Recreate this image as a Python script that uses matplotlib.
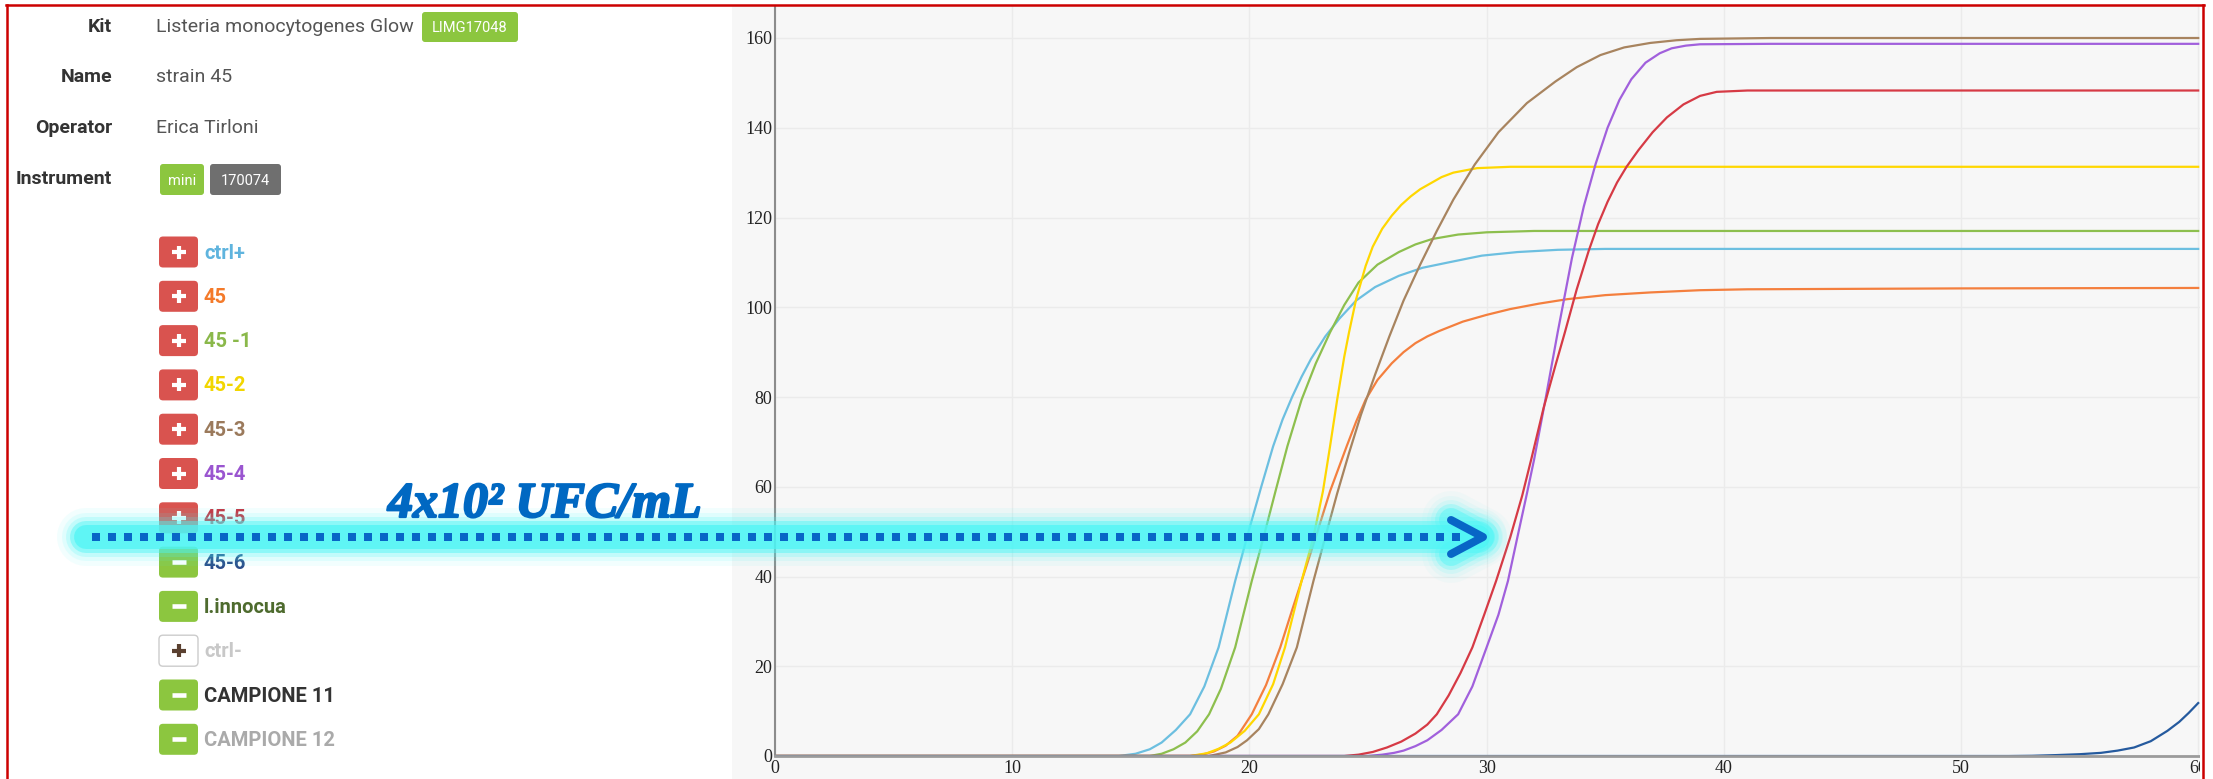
import numpy as np
import matplotlib.pyplot as plt
import matplotlib.patheffects as pe
from matplotlib.patches import Rectangle, FancyBboxPatch

W, H = 2213, 779

# ---- header / sample list (left panel) ----
info_labels = ['Kit', 'Name', 'Operator', 'Instrument']
info_values = ['Listeria monocytogenes Glow', 'strain 45', 'Erica Tirloni', '']
kit_badge = 'LIMG17048'
instr_badges = ['mini', '170074']

samples = ['ctrl+', '45', '45 -1', '45-2', '45-3', '45-4', '45-5',
           '45-6', 'l.innocua', 'ctrl-', 'CAMPIONE 11', 'CAMPIONE 12']
states = ['+', '+', '+', '+', '+', '+', '+', '-', '-', 'o', '-', '-']
sample_colors = ['#5fb4de', '#f47a2a', '#8ab84a', '#f2d600', '#9b7a5c', '#9a55d0',
                 '#c9303e', '#2a4d8a', '#4e6b2e', '#c8c8c8', '#333333', '#aaaaaa']

# ---- amplification curves: time vs signal ----
ctrl_x = [0, 14.5, 15.2, 15.8, 16.3, 16.9, 17.5, 18.1, 18.7, 19.0, 19.4, 19.9, 20.5, 21.0, 21.4, 21.8,
          22.2, 22.6, 23.2, 23.8, 24.5, 25.3, 26.3, 27.3, 28.4, 29.8, 31.3, 33, 35, 60]
ctrl_y = [0, 0, 0.5, 1.5, 3, 5.8, 9.3, 15.5, 24.2, 30.5, 39, 48.8, 60, 69, 75, 80,
          84.5, 88.5, 93.5, 97.5, 101.5, 104.5, 107, 108.8, 110, 111.5, 112.3, 112.8, 113, 113]

s45_x = [0, 17.5, 18.0, 18.5, 19.0, 19.5, 20.1, 20.7, 21.3, 21.8, 22.2, 22.8, 23.4, 24.1, 24.5, 24.9,
         25.4, 26.0, 26.5, 27.0, 27.5, 28.0, 29.0, 30.0, 31.0, 32.2, 33.4, 35, 36.9, 39, 41, 50, 60]
s45_y = [0, 0, 0.3, 1.0, 2.3, 4.5, 9.3, 15.8, 24.2, 32.5, 39, 48.8, 59, 69, 74.5, 79.4,
         83.8, 87.5, 90, 92, 93.5, 94.7, 96.8, 98.3, 99.6, 100.8, 101.8, 102.7, 103.3, 103.8, 104, 104.2, 104.3]

s451_x = [0, 15.8, 16.3, 16.8, 17.3, 17.8, 18.3, 18.8, 19.4, 20.1, 20.6, 21.1, 21.6, 22.2, 22.8, 23.4,
          24.0, 24.6, 25.4, 26.3, 27.0, 27.7, 28.8, 30, 32, 60]
s451_y = [0, 0, 0.5, 1.5, 3, 5.5, 9.3, 15, 24.2, 39, 48.8, 59, 69, 79.4, 87.5, 94.4,
          100.5, 105.5, 109.5, 112.3, 114, 115.2, 116.2, 116.7, 117, 117]

s452_x = [0, 17.5, 18.2, 18.7, 19.2, 19.8, 20.4, 21.0, 21.5, 22.2, 22.7, 23.1, 23.4, 23.7, 24.0, 24.2,
          24.5, 24.9, 25.2, 25.6, 26.0, 26.4, 26.8, 27.2, 27.7, 28.1, 28.6, 29.6, 31, 60]
s452_y = [0, 0, 0.6, 1.6, 3, 5.6, 9.3, 16, 24.2, 39, 48.8, 59, 69, 79.4, 89, 94.4,
          101.8, 109.2, 113.5, 117.5, 120.4, 122.8, 124.7, 126.3, 127.8, 129, 130, 131, 131.3, 131.3]

s453_x = [0, 18.3, 19.0, 19.5, 19.9, 20.4, 20.8, 21.4, 22.0, 22.7, 23.2, 23.7, 24.2, 24.7, 25.3, 25.9,
          26.5, 27.2, 27.9, 28.6, 29.5, 30.5, 31.7, 32.9, 33.8, 34.8, 35.8, 36.9, 38, 39, 42, 60]
s453_y = [0, 0, 0.8, 2.0, 3.5, 6.0, 9.3, 16, 24.2, 39, 48.8, 58.5, 67.5, 76, 85, 93.5,
          101.5, 109.5, 117, 124, 131.8, 139, 145.5, 150.3, 153.5, 156.2, 157.9, 158.9, 159.5, 159.8, 160, 160]

s454_x = [0, 25.0, 25.6, 26.1, 26.5, 27.0, 27.5, 28.1, 28.8, 29.4, 30.0, 30.5, 30.9, 31.3, 31.7, 32.0,
          32.5, 33.0, 33.6, 34.1, 34.6, 35.1, 35.6, 36.1, 36.7, 37.3, 37.8, 38.4, 39.0, 42, 60]
s454_y = [0, 0, 0.3, 0.7, 1.2, 2.2, 3.5, 5.8, 9.3, 15.5, 24.2, 31.5, 39, 48.8, 58.5, 66,
          80, 94.5, 111, 122.5, 132, 140, 146.2, 150.8, 154.5, 156.6, 157.7, 158.3, 158.6, 158.7, 158.7]

s455_x = [0, 24.0, 24.6, 25.2, 25.8, 26.4, 27.0, 27.5, 27.9, 28.4, 28.9, 29.4, 29.9, 30.4, 31.0, 31.5,
          31.9, 32.4, 32.9, 33.3, 33.8, 34.3, 34.7, 35.1, 35.5, 35.9, 36.4, 37.0, 37.6, 38.3, 39.0, 39.7, 41, 60]
s455_y = [0, 0, 0.3, 0.9, 1.9, 3.2, 5, 7, 9.3, 13.5, 18.5, 24.2, 31.5, 39, 48.8, 58,
          66.5, 77.5, 87, 94.4, 104, 112.5, 118.5, 123.5, 127.8, 131.3, 135, 139, 142.3, 145.2, 147.1, 148, 148.3, 148.3]

s456_x = [0, 52, 53, 54, 55, 55.9, 56.6, 57.3, 58.0, 58.7, 59.2, 59.6, 60]
s456_y = [0, 0, 0.05, 0.2, 0.4, 0.7, 1.2, 1.9, 3.3, 5.6, 7.6, 9.6, 11.8]

curves = [(ctrl_x, ctrl_y, '#6cbfe0'), (s45_x, s45_y, '#f47f3e'),
          (s451_x, s451_y, '#8dbf4e'), (s452_x, s452_y, '#ffd700'),
          (s453_x, s453_y, '#a8845f'), (s454_x, s454_y, '#a160dc'),
          (s455_x, s455_y, '#d63a45'), (s456_x, s456_y, '#255a9e')]

x_ticks = [0, 10, 20, 30, 40, 50, 60]
y_ticks = [0, 20, 40, 60, 80, 100, 120, 140, 160]

annot = '4x10² UFC/mL'

#%% figure
fig = plt.figure(figsize=(W / 100, H / 100), dpi=100)
fig.patch.set_facecolor('white')

ax_bg = fig.add_axes([0, 0, 1, 1], zorder=0)
ax_bg.set_xlim(0, W)
ax_bg.set_ylim(H, 0)
ax_bg.axis('off')

# chart panel background
ax_bg.add_patch(Rectangle((732, 6), 2200 - 732, H - 6, color='#f7f7f7', lw=0))

lab_font = 'Roboto'
for lab, val, yy in zip(info_labels, info_values, [27, 77, 128, 179]):
    ax_bg.text(112, yy, lab, ha='right', va='center', fontsize=14,
               fontweight='bold', color='#333333', family=lab_font)
    if val:
        ax_bg.text(156, yy, val, ha='left', va='center', fontsize=14,
                   color='#555555', family=lab_font)


def badge(x0, x1, y0, y1, txt, col):
    ax_bg.add_patch(FancyBboxPatch((x0, y0), x1 - x0, y1 - y0,
                                   boxstyle='round,pad=0,rounding_size=3',
                                   fc=col, ec='none'))
    ax_bg.text((x0 + x1) / 2, (y0 + y1) / 2 + 1, txt, ha='center', va='center',
               fontsize=10.5, color='white', family=lab_font)


badge(422, 518, 12, 42, kit_badge, '#8cc63f')
badge(160, 204, 164, 195, instr_badges[0], '#8cc63f')
badge(210, 281, 164, 195, instr_badges[1], '#6f6f6f')

# sample buttons
cx = 178.5
for i, (name, st, col) in enumerate(zip(samples, states, sample_colors)):
    cy = 252 + i * 44.3
    if st == '+':
        fc, ec = '#d9534f', 'none'
    elif st == '-':
        fc, ec = '#8cc63f', 'none'
    else:
        fc, ec = 'white', '#cccccc'
    ax_bg.add_patch(FancyBboxPatch((159, cy - 15.5), 39, 31,
                                   boxstyle='round,pad=0,rounding_size=4',
                                   fc=fc, ec=ec, lw=1))
    if st == '-':
        ax_bg.plot([cx - 7, cx + 7], [cy, cy], color='white', lw=3.3,
                   solid_capstyle='butt')
    else:
        gc = 'white' if st == '+' else '#5a4030'
        ax_bg.plot([cx - 7, cx + 7], [cy, cy], color=gc, lw=3.0, solid_capstyle='butt')
        ax_bg.plot([cx, cx], [cy - 6.5, cy + 6.5], color=gc, lw=3.0, solid_capstyle='butt')
    ax_bg.text(204, cy + 1, name, ha='left', va='center', fontsize=14.5,
               fontweight='bold', color=col, family=lab_font)

#%% chart
px_x = 23.72
px_y = 4.4875
ax = fig.add_axes([775 / W, (H - 756) / H, (2200 - 775) / W, (756 - 6) / H], zorder=1)
ax.set_facecolor('#f7f7f7')
for xs, ys, c in curves:
    ax.plot(xs, ys, color=c, lw=1.6, solid_joinstyle='round')
ax.set_xlim(0, (2200 - 775) / px_x)
ax.set_ylim(0, (756 - 6) / px_y)
ax.set_xticks(x_ticks)
ax.set_yticks(y_ticks)
ax.grid(True, color='#ebebeb', lw=1)
ax.set_axisbelow(True)
ax.tick_params(length=0, labelsize=13, colors='#222222')
ax.tick_params(axis='x', pad=3)
ax.tick_params(axis='y', pad=2)
for lbl in ax.get_xticklabels() + ax.get_yticklabels():
    lbl.set_family('Liberation Serif')
for s in ['top', 'right']:
    ax.spines[s].set_visible(False)
ax.spines['left'].set_color('#8c8c8c')
ax.spines['left'].set_linewidth(1.5)
ax.spines['bottom'].set_color('#9b9b9b')
ax.spines['bottom'].set_linewidth(2)

#%% overlay: glowing arrow, note, frame
ov = fig.add_axes([0, 0, 1, 1], zorder=3)
ov.set_xlim(0, W)
ov.set_ylim(H, 0)
ov.axis('off')
ov.patch.set_alpha(0)

ya = 537
chev_x = [1451, 1483, 1451]
chev_y = [520, ya, 554]
for w, a in [(58, 0.07), (48, 0.11), (40, 0.2), (32, 0.45), (24, 0.7)]:
    ov.plot([86, 1478], [ya, ya], color='#4df5f5', lw=w * 0.72, alpha=a,
            solid_capstyle='round')
    ov.plot(chev_x, chev_y, color='#4df5f5', lw=w * 0.72, alpha=a * 0.6,
            solid_capstyle='round', solid_joinstyle='round')

ov.plot([92, 1466], [ya, ya], color='#0866c6', lw=8 * 0.72,
        linestyle=(0, (1, 1)), dash_capstyle='butt')
ov.plot(chev_x, chev_y, color='#0866c6', lw=8 * 0.72,
        solid_capstyle='round', solid_joinstyle='round')

ov.text(388, 517, annot, ha='left', va='baseline', fontsize=36,
        fontweight='bold', fontstyle='italic', family='Liberation Serif',
        color='#0068c2',
        path_effects=[pe.withStroke(linewidth=1.6, foreground='#0068c2')])

ov.add_patch(Rectangle((2200, 0), W - 2200, H, color='white', lw=0))
red = '#cc0000'
ov.plot([6, 2204], [5, 5], color=red, lw=1.8)
ov.plot([7, 7], [5, H], color=red, lw=1.8)
ov.plot([2203, 2203], [5, H], color=red, lw=1.8)

fig.savefig('out.png', dpi=100)
